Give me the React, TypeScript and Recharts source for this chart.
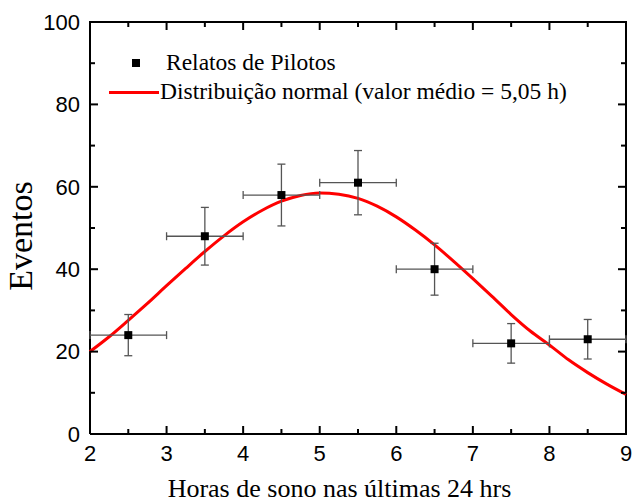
import React from 'react';
import {
  ComposedChart,
  Line,
  Scatter,
  XAxis,
  YAxis,
  ZAxis,
  ErrorBar,
  Label,
} from 'recharts';

// Measured points (Relatos de Pilotos)
const hours = [2.5, 3.5, 4.5, 5.5, 6.5, 7.5, 8.5];
const events = [24, 48, 58, 61, 40, 22, 23];
const hourErrors = [0.5, 0.5, 0.5, 0.5, 0.5, 0.5, 0.5];
const eventErrors = [5, 7, 7.5, 7.8, 6.3, 4.8, 4.8];

// Normal distribution curve
const curveHours = [
  2, 2.25, 2.5, 2.75, 3, 3.25, 3.5, 3.75, 4, 4.25, 4.5, 4.75, 5, 5.25, 5.5,
  5.75, 6, 6.25, 6.5, 6.75, 7, 7.25, 7.5, 7.75, 8, 8.25, 8.5, 8.75, 9,
];
const curveEvents = [
  20.0, 23.6, 27.6, 31.7, 36.0, 40.2, 44.3, 48.1, 51.5, 54.3, 56.5, 57.9, 58.5,
  58.2, 57.2, 55.3, 52.7, 49.5, 45.9, 41.9, 37.7, 33.4, 29.0, 25.0, 21.6, 18.0,
  14.9, 12.1, 9.6,
];

// Axis ticks
const xMajorTicks = [2, 3, 4, 5, 6, 7, 8, 9];
const xMinorTicks = [2.5, 3.5, 4.5, 5.5, 6.5, 7.5, 8.5];
const yMajorTicks = [0, 20, 40, 60, 80, 100];
const yMinorTicks = [10, 30, 50, 70, 90];

const X_MIN = 2;
const X_MAX = 9;
const Y_MIN = 0;
const Y_MAX = 100;

const xTitle = 'Horas de sono nas últimas 24 hrs';
const yTitle = 'Eventos';
const seriesPointsName = 'Relatos de Pilotos';
const seriesCurveName = 'Distribuição normal (valor médio = 5,05 h)';

const points = hours.map((h, i) => ({
  x: h,
  y: events[i],
  ex: hourErrors[i],
  ey: eventErrors[i],
}));
const curve = curveHours.map((h, i) => ({ x: h, y: curveEvents[i] }));

// plot frame (box) corners, drawn through the axes' scales
const frame = [
  { x: X_MIN, y: Y_MIN },
  { x: X_MAX, y: Y_MIN },
  { x: X_MAX, y: Y_MAX },
  { x: X_MIN, y: Y_MAX },
  { x: X_MIN, y: Y_MIN },
];

// inward tick marks on all four sides
type TickMark = { x: number; y: number; side: string; major: boolean };
const tickMarks: TickMark[] = [
  ...xMajorTicks.map((v) => ({ x: v, y: Y_MIN, side: 'bottom', major: true })),
  ...xMinorTicks.map((v) => ({ x: v, y: Y_MIN, side: 'bottom', major: false })),
  ...xMajorTicks.map((v) => ({ x: v, y: Y_MAX, side: 'top', major: true })),
  ...xMinorTicks.map((v) => ({ x: v, y: Y_MAX, side: 'top', major: false })),
  ...yMajorTicks.map((v) => ({ x: X_MIN, y: v, side: 'left', major: true })),
  ...yMinorTicks.map((v) => ({ x: X_MIN, y: v, side: 'left', major: false })),
  ...yMajorTicks.map((v) => ({ x: X_MAX, y: v, side: 'right', major: true })),
  ...yMinorTicks.map((v) => ({ x: X_MAX, y: v, side: 'right', major: false })),
];

const SERIF = '"Liberation Serif", "Times New Roman", serif';
const SANS = '"Liberation Sans", Arial, sans-serif';

const TickShape = (props: any) => {
  const { cx, cy } = props;
  const p = props.payload || props;
  const len = p.major ? 8 : 5;
  let x2 = cx;
  let y2 = cy;
  if (p.side === 'bottom') y2 = cy - len;
  else if (p.side === 'top') y2 = cy + len;
  else if (p.side === 'left') x2 = cx + len;
  else x2 = cx - len;
  return <line x1={cx} y1={cy} x2={x2} y2={y2} stroke="#000" strokeWidth={2} />;
};

const legendText: React.CSSProperties = {
  position: 'absolute',
  fontFamily: SERIF,
  fontSize: 23.5,
  lineHeight: '23.5px',
  color: '#000',
  whiteSpace: 'nowrap',
};

const ChartLegend = () => (
  <div style={{ position: 'absolute', left: 0, top: 0, width: 632, height: 110, pointerEvents: 'none' }}>
    <div style={{ position: 'absolute', left: 132, top: 59, width: 8, height: 8, background: '#000' }} />
    <div style={{ ...legendText, left: 166, top: 51.3 }}>{seriesPointsName}</div>
    <div style={{ position: 'absolute', left: 109, top: 90.5, width: 50, height: 3, background: '#ff0000' }} />
    <div style={{ ...legendText, left: 160, top: 80.3 }}>{seriesCurveName}</div>
  </div>
);

export default function App() {
  return (
    <div style={{ position: 'absolute', left: 0, top: 0, width: 632, height: 502, background: '#fff' }}>
      <ComposedChart
        width={632}
        height={502}
        margin={{ top: 22, right: 6, bottom: 0, left: 0 }}
      >
        <XAxis
          xAxisId="main"
          type="number"
          dataKey="x"
          domain={[X_MIN, X_MAX]}
          ticks={xMajorTicks}
          height={68}
          tickLine={false}
          tickSize={0}
          tickMargin={11}
          axisLine={false}
          tick={{ fill: '#000', fontSize: 22, fontFamily: SANS }}
          interval={0}
        >
          <Label
            content={() => (
              <text x={339.5} y={497} textAnchor="middle" fontFamily={SERIF} fontSize={26} fill="#000">
                {xTitle}
              </text>
            )}
          />
        </XAxis>

        <YAxis
          yAxisId="main"
          type="number"
          dataKey="y"
          domain={[Y_MIN, Y_MAX]}
          ticks={yMajorTicks}
          width={90}
          tickLine={false}
          tickSize={0}
          tickMargin={10}
          axisLine={false}
          tick={{ fill: '#000', fontSize: 22, fontFamily: SANS }}
          interval={0}
        >
          <Label
            content={() => (
              <text transform="translate(32,236) rotate(-90)" textAnchor="middle" fontFamily={SERIF} fontSize={34} fill="#000">
                {yTitle}
              </text>
            )}
          />
        </YAxis>

        <ZAxis range={[64, 64]} />

        <Line
          xAxisId="main"
          yAxisId="main"
          data={frame}
          dataKey="y"
          type="linear"
          stroke="#000"
          strokeWidth={2}
          dot={false}
          activeDot={false}
          isAnimationActive={false}
          legendType="none"
        />
        <Scatter
          xAxisId="main"
          yAxisId="main"
          data={tickMarks}
          dataKey="y"
          shape={(p: any) => <TickShape {...p} />}
          isAnimationActive={false}
          legendType="none"
        />

        <Line
          xAxisId="main"
          yAxisId="main"
          data={curve}
          dataKey="y"
          type="monotone"
          stroke="#ff0000"
          strokeWidth={3}
          dot={false}
          activeDot={false}
          isAnimationActive={false}
          name={seriesCurveName}
        />
        <Scatter
          xAxisId="main"
          yAxisId="main"
          data={points}
          dataKey="y"
          shape="square"
          fill="#000"
          isAnimationActive={false}
          name={seriesPointsName}
        >
          <ErrorBar dataKey="ex" direction="x" width={4} stroke="#555" strokeWidth={1.3} isAnimationActive={false} />
          <ErrorBar dataKey="ey" direction="y" width={4} stroke="#555" strokeWidth={1.3} isAnimationActive={false} />
        </Scatter>
      </ComposedChart>
      <ChartLegend />
    </div>
  );
}
